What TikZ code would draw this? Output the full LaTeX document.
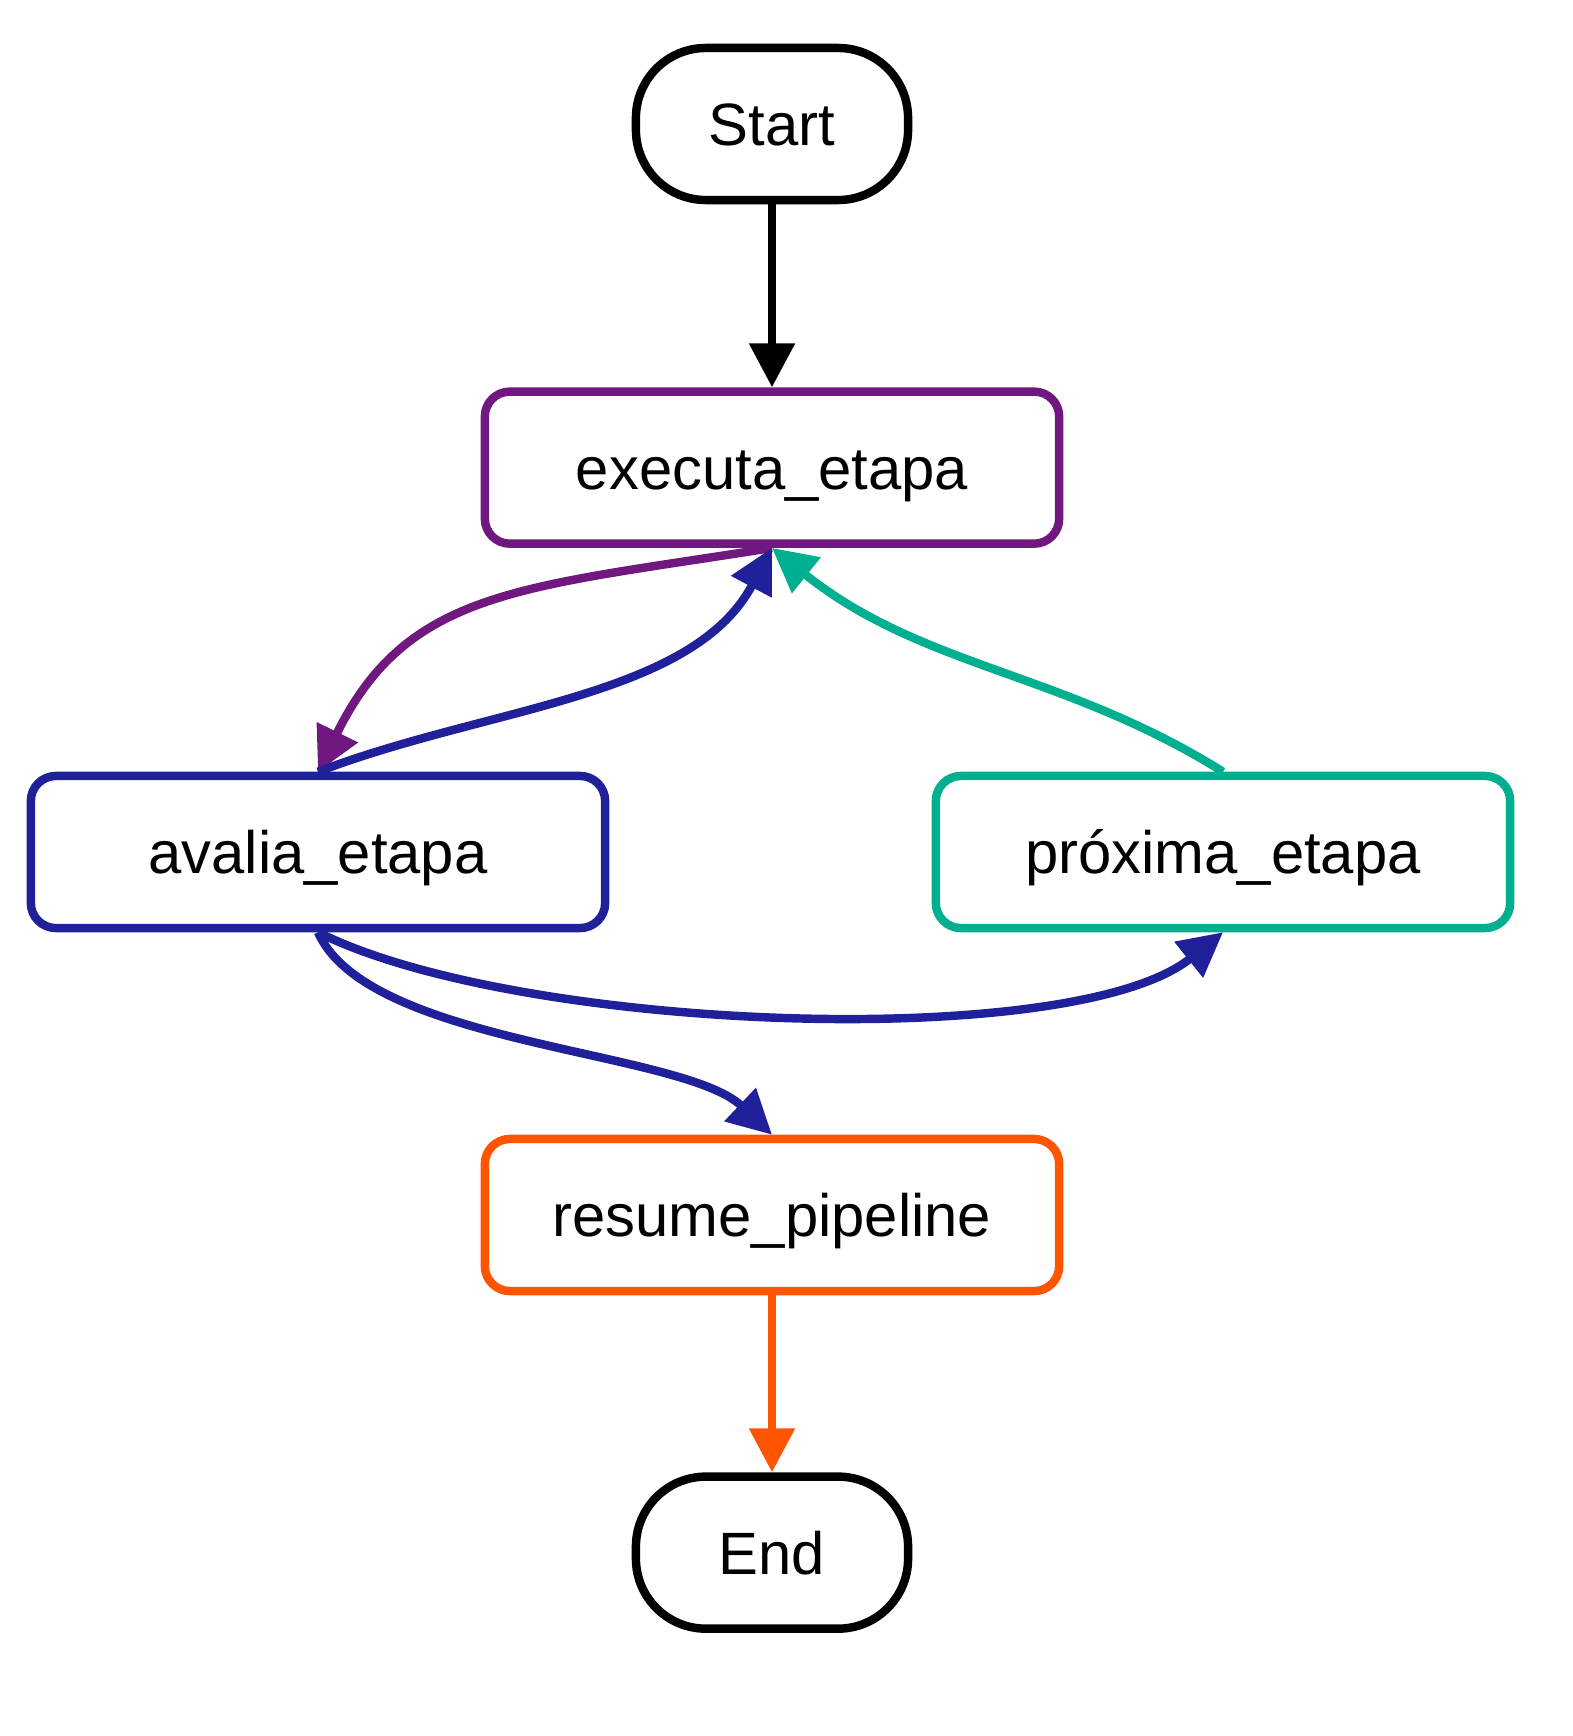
\documentclass[tikz,border=0pt]{standalone}
\usepackage{fontspec}
\setmainfont{Liberation Sans}
\usepackage{tikz}
\usetikzlibrary{positioning,arrows.meta}
\definecolor{purp}{RGB}{112,24,128}
\definecolor{navy}{RGB}{32,32,154}
\definecolor{tealg}{RGB}{0,175,143}
\definecolor{orng}{RGB}{255,85,0}

\begin{document}
\begin{tikzpicture}[
x=0.01cm,y=-0.01cm,
node distance=1.83cm,
line width=2.4pt,
box/.style={draw,rounded corners=0.25cm,minimum width=5.74cm,minimum height=1.52cm,align=center,text height=12.3pt,text depth=0pt,font=\fontsize{17}{20}\selectfont},
term/.style={box,rounded corners=0.7cm,minimum width=2.72cm},
>={Triangle[length=0.44cm,width=0.44cm]}
]
\useasboundingbox (0,0) rectangle (1572,1736);

\node[term] (s) at (772,124) {Start};
\node[box,draw=purp,below=of s] (ex) {executa\_etapa};
\node[box,draw=navy] (av) at (318,852) {avalia\_etapa};
\node[box,draw=tealg] (px) at (1223,852) {próxima\_etapa};
\node[box,draw=orng] (rp) at (772,1215) {resume\_pipeline};
\node[term,below=1.77cm of rp] (en) {End};

\draw[->] (s)--(ex);
\draw[->,purp] (ex.south) .. controls +(-250,40) and +(90,-183) .. (av.north);
\draw[->,navy] (av.north) .. controls +(170,-65) and +(-80,150) .. (ex.south);
\draw[->,tealg] (px.north) .. controls +(-160,-100) and +(150,120) .. (ex.south);
\draw[->,navy] (av.south) .. controls +(200,100) and +(-150,120) .. (px.south);
\draw[->,navy] (av.south) .. controls +(50,113) and +(-90,-85) .. (rp.north);
\draw[->,orng] (rp)--(en);
\end{tikzpicture}
\end{document}
